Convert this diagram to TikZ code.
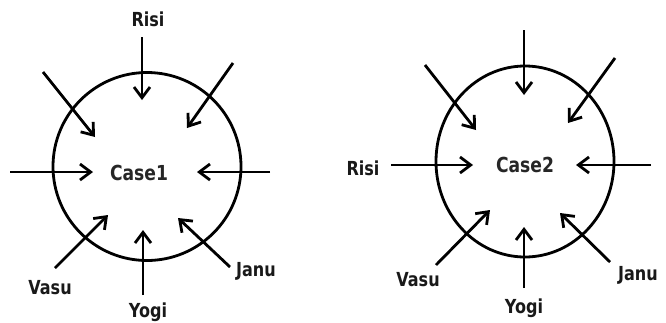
\documentclass[tikz,border=0pt]{standalone}
\usepackage{fontspec}
\setmainfont[FakeStretch=0.83]{DejaVu Sans}
\usetikzlibrary{arrows.meta}
\begin{document}
\begin{tikzpicture}[x=0.75pt,y=-0.75pt,
  ring/.style={draw=black,line width=2.1pt},
  inarrow/.style={draw=black,line width=2.1pt,-{Straight Barb[length=8pt,width=12pt]}},
  lbl/.style={font=\bfseries\fontsize{14.5pt}{15pt}\selectfont,inner sep=0pt,text=black!90},
  casetext/.style={font=\bfseries\fontsize{15.5pt}{16pt}\selectfont,inner sep=0pt,text=black!85}]
\useasboundingbox (0,0) rectangle (666,322);
% ---------- Case 1 ----------
\node[ring,circle,minimum size=188*0.75pt,inner sep=0pt] (c1) at (147,166.5) {};
\node[casetext] (t1) at (139,173) {Case1};
\node[lbl] (risi1) at (148,19) {Risi};
\node[lbl] (vasu1) at (50,288) {Vasu};
\node[lbl] (yogi1) at (148,312) {Yogi};
\node[lbl] (janu1) at (256,271) {Janu};
\coordinate (a1s) at (142,37);  \coordinate (a1e) at (142,100);
\coordinate (b1s) at (43,72);   \coordinate (b1e) at (95,137);
\coordinate (c1s) at (233,63);  \coordinate (c1e) at (187,128);
\coordinate (d1s) at (10,172);  \coordinate (d1e) at (93,172);
\coordinate (e1s) at (270,172); \coordinate (e1e) at (197,172);
\coordinate (f1s) at (55,268);  \coordinate (f1e) at (108,215);
\coordinate (g1s) at (143,295); \coordinate (g1e) at (143,230);
\coordinate (h1s) at (230,267); \coordinate (h1e) at (178,218);
\foreach \p in {a1,b1,c1,d1,e1,f1,g1,h1} {\draw[inarrow] (\p s) -- (\p e);}
% ---------- Case 2 ----------
\draw[ring] (525,161.5) ellipse [x radius=89, y radius=95.5];
\node[casetext] (t2) at (525,165) {Case2};
\node[lbl] (risi2) at (363,168) {Risi};
\node[lbl] (vasu2) at (418,280) {Vasu};
\node[lbl] (yogi2) at (524,308) {Yogi};
\node[lbl] (janu2) at (638,275) {Janu};
\coordinate (a2s) at (524,30);  \coordinate (a2e) at (524,95);
\coordinate (b2s) at (425,65);  \coordinate (b2e) at (476,130);
\coordinate (c2s) at (615,58);  \coordinate (c2e) at (568,123);
\coordinate (d2s) at (391,165); \coordinate (d2e) at (473,165);
\coordinate (e2s) at (651,165); \coordinate (e2e) at (576,165);
\coordinate (f2s) at (436,265); \coordinate (f2e) at (490,210);
\coordinate (g2s) at (524,288); \coordinate (g2e) at (524,227);
\coordinate (h2s) at (610,262); \coordinate (h2e) at (560,213);
\foreach \p in {a2,b2,c2,d2,e2,f2,g2,h2} {\draw[inarrow] (\p s) -- (\p e);}
\end{tikzpicture}
\end{document}
